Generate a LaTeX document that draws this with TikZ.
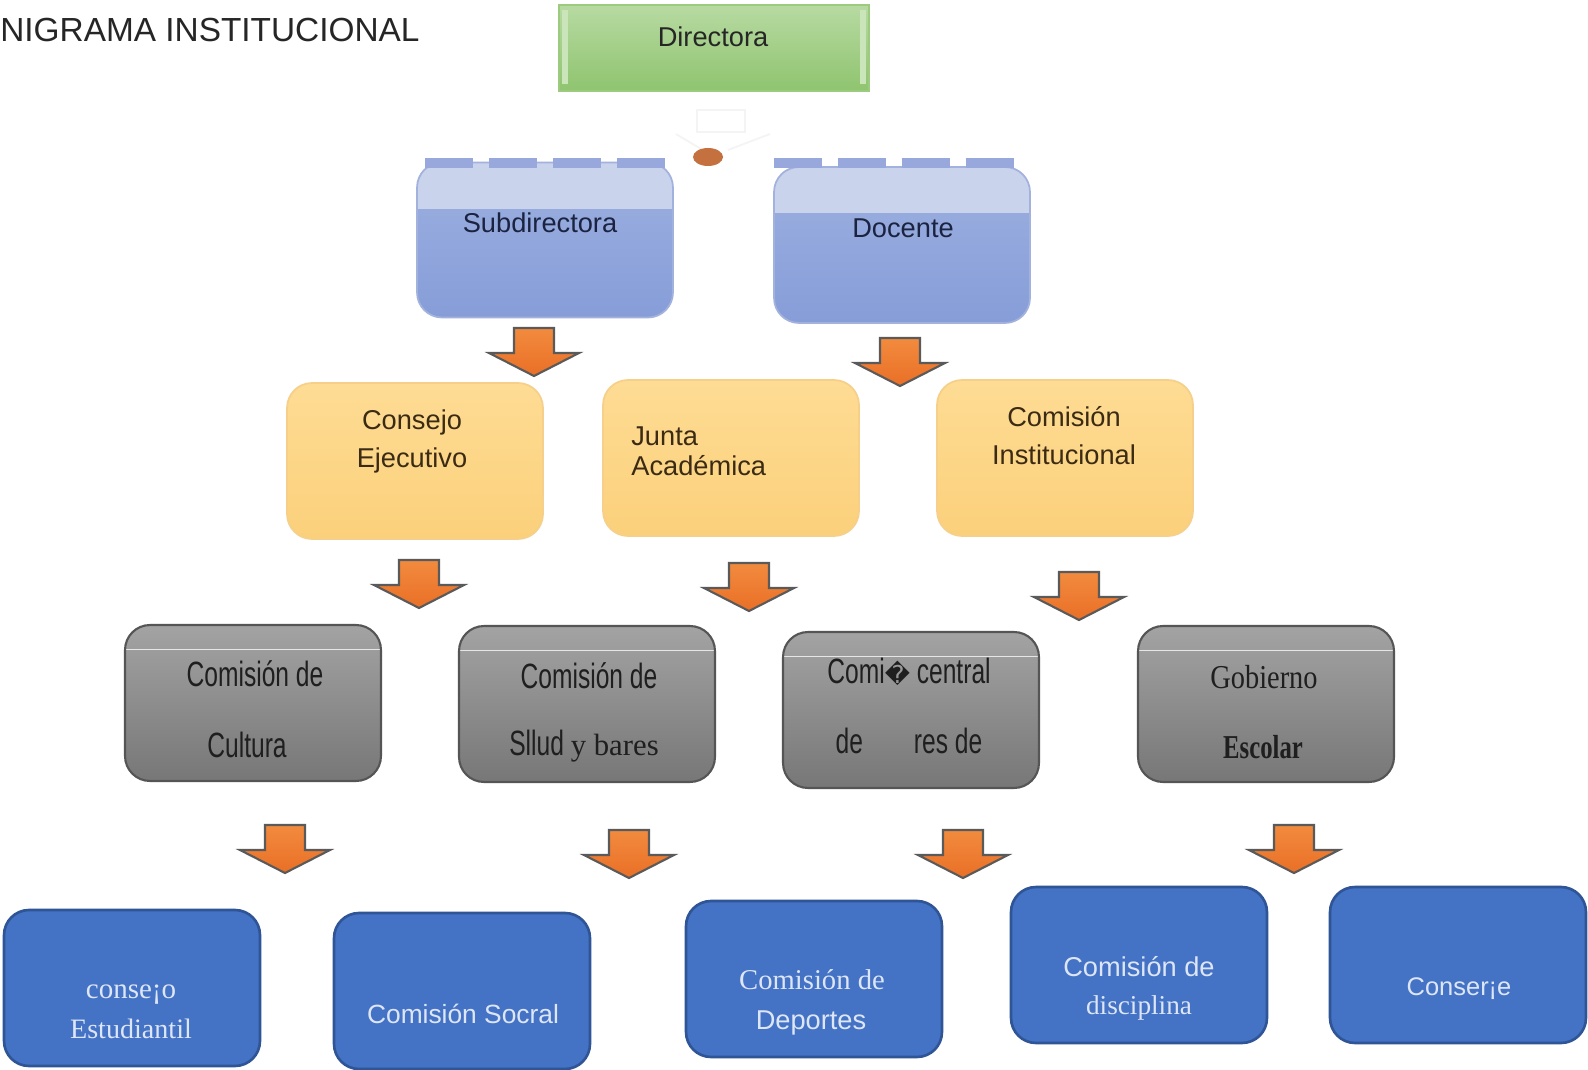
\documentclass[tikz,border=0pt]{standalone}
\usepackage{fontspec}
\setmainfont{Liberation Serif}
\setsansfont{Liberation Sans}
\newfontfamily\narrowsans[FakeStretch=0.70]{Liberation Sans}
\newfontfamily\condserif[FakeStretch=0.85]{Liberation Serif}
\newfontfamily\narrowserif[FakeStretch=0.74]{Liberation Serif}
\newfontfamily\symbfont{DejaVu Sans}
\usepackage{xcolor}
\usetikzlibrary{shapes.geometric}

\definecolor{dirtop}{HTML}{B7DAA2}
\definecolor{dirbot}{HTML}{8FC46F}
\definecolor{dirline}{HTML}{9CCB80}
\definecolor{dirbar}{HTML}{CBE5BA}
\definecolor{bluetop}{HTML}{9DB0E0}
\definecolor{bluebot}{HTML}{869DD8}
\definecolor{blueband}{HTML}{CAD3EC}
\definecolor{blueline}{HTML}{A3B2DD}
\definecolor{dashblue}{HTML}{98A8DC}
\definecolor{dotorange}{HTML}{C5703F}
\definecolor{yeltop}{HTML}{FEDC94}
\definecolor{yelbot}{HTML}{FBD07B}
\definecolor{yelline}{HTML}{F6D08A}
\definecolor{graytop}{HTML}{A3A3A3}
\definecolor{graybot}{HTML}{777777}
\definecolor{grayline}{HTML}{555555}
\definecolor{deepblue}{HTML}{4472C4}
\definecolor{deepline}{HTML}{2F5597}
\definecolor{arrowtop}{HTML}{F28B3E}
\definecolor{arrowbot}{HTML}{E96F26}
\definecolor{arrowline}{HTML}{5A5A5A}
\definecolor{navytext}{HTML}{1B2340}
\definecolor{browntext}{HTML}{3B2B14}
\definecolor{lighttext}{HTML}{DDE6F6}

\begin{document}
\begin{tikzpicture}[x=0.02cm,y=-0.02cm,
    box/.style={rounded corners=0.5cm, minimum width=5.12cm, minimum height=3.12cm, inner sep=0pt},
    green box/.style={rectangle, minimum width=6.2cm, minimum height=1.72cm, top color=dirtop, bottom color=dirbot, draw=dirline, line width=1pt,
        path picture={\fill[dirbar] ([xshift=0.05cm,yshift=-0.1cm]path picture bounding box.north west) rectangle ([xshift=0.18cm,yshift=0.14cm]path picture bounding box.south west);
                      \fill[dirbar] ([xshift=-0.05cm,yshift=-0.1cm]path picture bounding box.north east) rectangle ([xshift=-0.18cm,yshift=0.14cm]path picture bounding box.south east);}},
    lilac box/.style={box, top color=bluetop, bottom color=bluebot, draw=blueline, line width=1pt,
        path picture={\fill[blueband, sharp corners] (path picture bounding box.north west) rectangle ([yshift=-0.92cm]path picture bounding box.north east);}},
    yellow box/.style={box, top color=yeltop, bottom color=yelbot, draw=yelline, line width=1pt},
    gray box/.style={box, top color=graytop, bottom color=graybot, draw=grayline, line width=1.2pt,
        path picture={\draw[white, opacity=0.75, line width=0.5pt, sharp corners] ([yshift=-0.48cm]path picture bounding box.north west) -- ([yshift=-0.48cm]path picture bounding box.north east);}},
    blue box/.style={box, fill=deepblue, draw=deepline, line width=1.5pt},
    txt/.style={inner sep=0pt, font=\sffamily\fontsize{15.5}{18}\selectfont},
    navy txt/.style={txt, text=navytext},
    brown txt/.style={txt, text=browntext},
    gray txt/.style={txt, text=black!88, font=\narrowsans\fontsize{20}{22}\selectfont},
    light txt/.style={txt, text=lighttext},
    blockarrow/.pic={
        \path[draw=arrowline, line width=1.2pt, top color=arrowtop, bottom color=arrowbot, line join=miter]
            (-20,-24) -- (20,-24) -- (20,1) -- (45,1) -- (0,24) -- (-45,1) -- (-20,1) -- cycle;
    }]

    \useasboundingbox[fill=white] (0,0) rectangle (1588,1070);

    % title
    \node[txt, anchor=west, text=black!85, font=\sffamily\fontsize{19}{22}\selectfont] (title) at (0,30) {NIGRAMA INSTITUCIONAL};

    % top
    \node[green box] (dir) at (714,48) {};
    \node[txt, text=black!85] (dirT) at (713,37) {Directora};

    \draw[gray!9, line width=1pt] (697,110) rectangle (745,132);
    \draw[gray!9, line width=1pt] (676,134) -- (706,152);
    \draw[gray!9, line width=1pt] (770,134) -- (728,150);

    \node[lilac box, minimum height=3.1cm] (sub) at (545,240) {};
    \node[lilac box] (doc) at (902,245) {};
    \node[navy txt] (subT) at (540,223) {Subdirectora};
    \node[navy txt] (docT) at (903,228) {Docente};

    \coordinate (dashL) at (425,163);
    \coordinate (dashLe) at (665,163);
    \coordinate (dashR) at (774,163);
    \coordinate (dashRe) at (1014,163);
    \draw[dashblue, line width=0.2cm, dash pattern=on 0.96cm off 0.32cm] (dashL) -- (dashLe);
    \draw[dashblue, line width=0.2cm, dash pattern=on 0.96cm off 0.32cm] (dashR) -- (dashRe);
    \node[ellipse, fill=dotorange, minimum width=0.6cm, minimum height=0.36cm, inner sep=0pt] (dot) at (708,157) {};

    \pic at (534,352) {blockarrow};
    \pic at (900,362) {blockarrow};

    % second row
    \node[yellow box] (cons) at (415,461) {};
    \node[yellow box] (junta) at (731,458) {};
    \node[yellow box] (inst) at (1065,458) {};
    \node[brown txt] (consA) at (412,422) {Consejo};
    \node[brown txt] (consB) at (412,460) {Ejecutivo};
    \node[brown txt, anchor=west] (juntaA) at (631,436) {Junta};
    \node[brown txt, anchor=west] (juntaB) at (631,466) {Académica};
    \node[brown txt] (instA) at (1064,417) {Comisión};
    \node[brown txt] (instB) at (1064,455) {Institucional};

    \pic at (419,584) {blockarrow};
    \pic at (749,587) {blockarrow};
    \pic at (1079,596) {blockarrow};

    % third row
    \node[gray box] (cult) at (253,703) {};
    \node[gray box] (salud) at (587,704) {};
    \node[gray box] (comite) at (911,710) {};
    \node[gray box] (gob) at (1266,704) {};
    \node[gray txt] (cultA) at (255,674) {Comisión de};
    \node[gray txt] (cultB) at (247,745) {Cultura};
    \node[gray txt] (saludA) at (589,676) {Comisión de};
    \node[gray txt] (saludB) at (584,746) {Sllud {\rmfamily\fontsize{17.5}{20}\selectfont y bares}};
    \node[gray txt] (comiteA) at (909,672) {Comi{\symbfont\fontsize{14}{16}\selectfont �} central};
    \node[gray txt] (comiteB) at (909,741) {de\hspace{29pt}res de};
    \node[gray txt, font=\condserif\fontsize{19}{22}\selectfont] (gobA) at (1264,677) {Gobierno};
    \node[gray txt, font=\narrowserif\bfseries\fontsize{19}{22}\selectfont] (gobB) at (1263,747) {Escolar};

    \pic at (285,849) {blockarrow};
    \pic at (629,854) {blockarrow};
    \pic at (963,854) {blockarrow};
    \pic at (1294,849) {blockarrow};

    % bottom row
    \node[blue box] (est) at (132,988) {};
    \node[blue box] (soc) at (462,991) {};
    \node[blue box] (dep) at (814,979) {};
    \node[blue box] (disc) at (1139,965) {};
    \node[blue box] (consj) at (1458,965) {};
    \node[light txt, font=\rmfamily\fontsize{16.5}{18}\selectfont] (estA) at (131,995) {conse¡o};
    \node[light txt, font=\rmfamily\fontsize{16}{18}\selectfont] (estB) at (131,1029) {Estudiantil};
    \node[light txt, font=\sffamily\fontsize{15}{18}\selectfont] (socA) at (463,1014) {Comisión Socral};
    \node[light txt, font=\rmfamily\fontsize{16.3}{18}\selectfont] (depA) at (812,980) {Comisión de};
    \node[light txt] (depB) at (811,1023) {Deportes};
    \node[light txt] (discA) at (1139,967) {Comisión de};
    \node[light txt, font=\rmfamily\fontsize{15.5}{18}\selectfont] (discB) at (1139,1008) {disciplina};
    \node[light txt, font=\sffamily\fontsize{14.5}{18}\selectfont] (consjA) at (1459,989) {Conser¡e};

\end{tikzpicture}
\end{document}
